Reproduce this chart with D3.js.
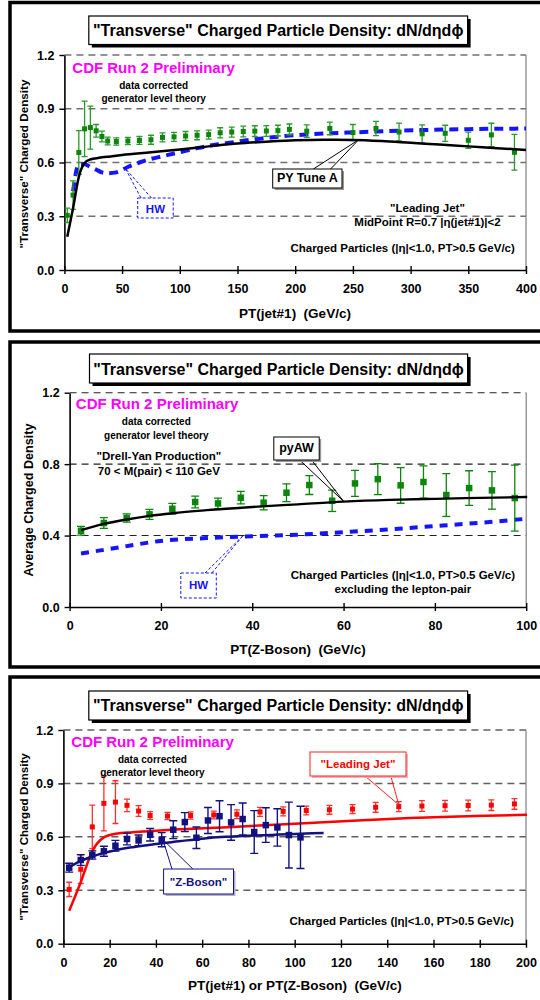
<!DOCTYPE html>
<html>
<head>
<meta charset="utf-8">
<script src="https://cdn.jsdelivr.net/npm/d3@7"></script>
<style>
  html, body { margin: 0; padding: 0; background: #fff; }
  svg { display: block; }
  text { font-family: "Liberation Sans", Arial, sans-serif; font-weight: bold; }
</style>
</head>
<body>
<svg id="chart" width="540" height="1000"></svg>
<script>
// ---------------- DATA ----------------
// "Leading Jet" data (CDF Run 2, corrected), PT(jet#1) bins in GeV/c
const ljX   = [2.5,7.5,12.5,17.5,22.5,27.5,32.5,37.5,45,55,65,75,85,95,105,115,125,135,145,155,165,175,185,195,210,230,250,270,290,310,330,350,370,390];
const ljY   = [0.305,0.418,0.656,0.788,0.795,0.777,0.745,0.720,0.717,0.720,0.723,0.727,0.740,0.743,0.748,0.752,0.756,0.766,0.770,0.773,0.775,0.776,0.778,0.785,0.775,0.790,0.767,0.790,0.770,0.760,0.763,0.724,0.754,0.657];
const ljErr = [0.040,0.080,0.122,0.155,0.120,0.035,0.030,0.022,0.020,0.020,0.022,0.025,0.025,0.025,0.025,0.025,0.025,0.028,0.028,0.030,0.030,0.030,0.030,0.030,0.035,0.035,0.045,0.040,0.050,0.050,0.045,0.045,0.065,0.100];

// "Z-Boson" (Drell-Yan) data, PT(Z) bins in GeV/c
const zX   = [2.5,7.5,12.5,17.5,22.5,27.5,32.5,37.5,42.5,47.5,52.5,57.5,62.5,67.5,72.5,77.5,82.5,87.5,92.5,97.5,102.5];
const zY   = [0.427,0.470,0.498,0.519,0.550,0.588,0.580,0.612,0.584,0.640,0.683,0.595,0.692,0.716,0.681,0.700,0.627,0.666,0.653,0.610,0.597];
const zErr = [0.025,0.030,0.023,0.028,0.030,0.033,0.030,0.035,0.040,0.050,0.053,0.060,0.073,0.087,0.100,0.090,0.120,0.097,0.105,0.185,0.175];

// PYTHIA Tune A (leading jet) theory curve
const pyX = [2.5,7.5,12.5,17.5,22.5,30,40,50,75,100,125,150,175,200,225,250,275,300,325,350,375,400];
const pyY = [0.185,0.345,0.520,0.597,0.617,0.626,0.634,0.642,0.657,0.673,0.690,0.706,0.716,0.724,0.727,0.726,0.720,0.710,0.700,0.690,0.680,0.670];

// HERWIG (leading jet) theory curve
const hwX = [7.5,12.5,17.5,22.5,27.5,32.5,37.5,45,55,65,75,85,95,105,115,125,135,145,155,165,175,185,195,210,230,250,270,290,310,330,350,370,390,400];
const hwY = [0.440,0.590,0.590,0.575,0.560,0.545,0.540,0.545,0.575,0.600,0.620,0.635,0.650,0.665,0.680,0.693,0.703,0.712,0.722,0.730,0.737,0.744,0.750,0.756,0.763,0.768,0.773,0.778,0.781,0.784,0.786,0.788,0.789,0.790];

// PYTHIA AW (Z-boson) theory curve
const awX = [2.5,7.5,12.5,17.5,22.5,30,40,50,60,70,80,90,100,112.5];
const awY = [0.430,0.465,0.490,0.510,0.525,0.542,0.560,0.575,0.590,0.600,0.606,0.611,0.616,0.622];

// HERWIG (Z-boson) theory curve
const hwzX = [2.5,10,20,30,40,50,60,70,80,90,100];
const hwzY = [0.300,0.330,0.370,0.386,0.396,0.405,0.419,0.435,0.453,0.472,0.494];

// Tick labels
const xTicks1 = [0,50,100,150,200,250,300,350,400];
const xTicks2 = [0,20,40,60,80,100];
const xTicks3 = [0,20,40,60,80,100,120,140,160,180,200];
const yTicks1 = [0.0,0.3,0.6,0.9,1.2];
const yTicks2 = [0.0,0.4,0.8,1.2];
const yTicks3 = [0.0,0.3,0.6,0.9,1.2];

const titleText = "\"Transverse\" Charged Particle Density: dN/dηdϕ";

// ---------------- HELPERS ----------------
const svg = d3.select("#chart");
const toPts = (xs, ys) => xs.map((x, i) => ({x, y: ys[i]}));
const toErr = (xs, ys, es) => xs.map((x, i) => ({x, y: ys[i], e: es[i]}));

function txt(g, x, y, s, o = {}) {
  return g.append("text").attr("x", x).attr("y", y).text(s)
    .attr("font-size", o.size || 11)
    .attr("text-anchor", o.anchor || "start")
    .attr("fill", o.fill || "#000")
    .style("white-space", "pre");
}

function panel(cfg) {
  const g = svg.append("g");
  g.append("rect").attr("x", 10).attr("y", cfg.fy0).attr("width", 560).attr("height", cfg.fy1 - cfg.fy0)
    .attr("fill", "#fff").attr("stroke", "#000").attr("stroke-width", 3.5);

  const x = d3.scaleLinear().domain(cfg.xDom).range([cfg.px0, cfg.px1]);
  const y = d3.scaleLinear().domain([0, 1.2]).range([cfg.pyB, cfg.pyT]);

  g.append("g").selectAll("line").data(cfg.yTicks.filter(d => d > 0)).join("line")
    .attr("x1", cfg.px0).attr("x2", cfg.px1)
    .attr("y1", d => y(d)).attr("y2", d => y(d))
    .attr("stroke", cfg.gridColor).attr("stroke-width", cfg.gridW).attr("stroke-dasharray", "7,5");
  g.append("line").attr("x1", cfg.px1).attr("x2", cfg.px1).attr("y1", cfg.pyT).attr("y2", cfg.pyB)
    .attr("stroke", "#808080").attr("stroke-width", 1.2);

  const ax = g.append("g").attr("transform", `translate(0,${cfg.pyB})`)
    .call(d3.axisBottom(x).tickValues(cfg.xTicks).tickSize(4).tickSizeOuter(0).tickFormat(d3.format("d")));
  ax.select(".domain").attr("stroke", "#000").attr("stroke-width", 1.6);
  ax.selectAll(".tick line").attr("y1", -4).attr("y2", 4).attr("stroke", "#000").attr("stroke-width", 1.4);
  ax.selectAll(".tick text").attr("y", cfg.xLabBase - cfg.pyB).attr("dy", null)
    .attr("font-size", 12.5).attr("font-family", "Liberation Sans, Arial, sans-serif").attr("font-weight", "bold").attr("fill", "#000");

  const ay = g.append("g").attr("transform", `translate(${cfg.px0},0)`)
    .call(d3.axisLeft(y).tickValues(cfg.yTicks).tickSize(5).tickSizeOuter(0).tickPadding(cfg.yPad).tickFormat(d3.format(".1f")));
  ay.select(".domain").attr("stroke", "#000").attr("stroke-width", 1.6);
  ay.selectAll(".tick line").attr("stroke", "#000").attr("stroke-width", 1.4);
  ay.selectAll(".tick text").attr("font-size", 12.5).attr("font-family", "Liberation Sans, Arial, sans-serif").attr("font-weight", "bold").attr("fill", "#000");

  const cid = "clip" + cfg.id;
  svg.append("defs").append("clipPath").attr("id", cid).append("rect")
    .attr("x", cfg.px0).attr("y", cfg.pyT - 20).attr("width", cfg.px1 - cfg.px0 + 1).attr("height", cfg.pyB - cfg.pyT + 20);
  const plot = g.append("g").attr("clip-path", `url(#${cid})`);

  const tb = cfg.title;
  g.append("rect").attr("x", tb.x0 + 3).attr("y", tb.y0 + 3).attr("width", tb.x1 - tb.x0).attr("height", tb.y1 - tb.y0).attr("fill", "#000");
  g.append("rect").attr("x", tb.x0).attr("y", tb.y0).attr("width", tb.x1 - tb.x0).attr("height", tb.y1 - tb.y0)
    .attr("fill", "#fff").attr("stroke", "#000").attr("stroke-width", 1.2);
  txt(g, (tb.x0 + tb.x1) / 2, tb.base, titleText, {size: 16, anchor: "middle"});

  txt(g, cfg.xTitle.x, cfg.xTitle.y, cfg.xTitle.s, {size: 13.5, anchor: "middle"});
  g.append("text").attr("transform", `translate(${cfg.yTitle.x},${cfg.yTitle.y}) rotate(-90)`)
    .attr("text-anchor", "middle").attr("dy", "0.35em").attr("font-size", cfg.yTitle.size).text(cfg.yTitle.s);

  txt(g, cfg.cdf.x, cfg.cdf.y, "CDF Run 2 Preliminary", {size: 15, fill: "#ff00ff"});

  return {g, plot, x, y};
}

function drawLine(p, xs, ys, st) {
  const line = d3.line().x(d => p.x(d.x)).y(d => p.y(d.y)).curve(d3.curveMonotoneX);
  p.plot.append("path").datum(toPts(xs, ys)).attr("d", line)
    .attr("fill", "none").attr("stroke", st.color).attr("stroke-width", st.w)
    .attr("stroke-dasharray", st.dash || null).attr("stroke-linecap", "butt");
}

function drawData(p, xs, ys, es, st) {
  const d = toErr(xs, ys, es).filter(v => v.x <= p.x.domain()[1]);
  const eg = p.plot.append("g").attr("stroke", st.bar).attr("stroke-width", st.bw);
  eg.selectAll("line.v").data(d).join("line").attr("class", "v")
    .attr("x1", v => p.x(v.x)).attr("x2", v => p.x(v.x)).attr("y1", v => p.y(v.y - v.e)).attr("y2", v => p.y(v.y + v.e));
  eg.selectAll("line.t").data(d).join("line").attr("class", "t")
    .attr("x1", v => p.x(v.x) - st.cap).attr("x2", v => p.x(v.x) + st.cap).attr("y1", v => p.y(v.y + v.e)).attr("y2", v => p.y(v.y + v.e));
  eg.selectAll("line.b").data(d).join("line").attr("class", "b")
    .attr("x1", v => p.x(v.x) - st.cap).attr("x2", v => p.x(v.x) + st.cap).attr("y1", v => p.y(v.y - v.e)).attr("y2", v => p.y(v.y - v.e));
  p.plot.append("g").selectAll("rect").data(d).join("rect")
    .attr("x", v => p.x(v.x) - st.sz / 2).attr("y", v => p.y(v.y) - st.sz / 2)
    .attr("width", st.sz).attr("height", st.sz).attr("fill", st.fill);
}

function callout(g, box, label, tip, st) {
  g.append("line").attr("x1", box.a[0]).attr("y1", box.a[1]).attr("x2", tip[0]).attr("y2", tip[1])
    .attr("stroke", st.stroke).attr("stroke-width", 1).attr("stroke-dasharray", st.dash || null);
  g.append("line").attr("x1", box.b[0]).attr("y1", box.b[1]).attr("x2", tip[0]).attr("y2", tip[1])
    .attr("stroke", st.stroke).attr("stroke-width", 1).attr("stroke-dasharray", st.dash || null);
  if (st.shadow) {
    g.append("rect").attr("x", box.x0 + 2).attr("y", box.y0 + 2).attr("width", box.x1 - box.x0).attr("height", box.y1 - box.y0)
      .attr("fill", st.shadow);
  }
  g.append("rect").attr("x", box.x0).attr("y", box.y0).attr("width", box.x1 - box.x0).attr("height", box.y1 - box.y0)
    .attr("fill", "#fff").attr("stroke", st.stroke).attr("stroke-width", st.bw || 1).attr("stroke-dasharray", st.dash || null);
  txt(g, (box.x0 + box.x1) / 2, box.base, label, {size: st.size || 12, anchor: "middle", fill: st.text || st.stroke});
}

// ---------------- PANEL 1 ----------------
const p1 = panel({
  id: 1, fy0: 2.5, fy1: 331, px0: 64.4, px1: 526, pyT: 55, pyB: 270,
  xDom: [0, 400], xTicks: xTicks1, yTicks: yTicks1, xLabBase: 293, yPad: 5,
  gridColor: "#707070", gridW: 1.5,
  title: {x0: 88.8, x1: 467.6, y0: 16, y1: 44.5, base: 36},
  xTitle: {x: 295, y: 318, s: "PT(jet#1)  (GeV/c)"},
  yTitle: {x: 24, y: 164, s: "\"Transverse\" Charged Density", size: 11.7},
  cdf: {x: 72.3, y: 73.3}
});
txt(p1.g, 153.7, 89, "data corrected", {size: 10, anchor: "middle"});
txt(p1.g, 153.7, 101.5, "generator level theory", {size: 10, anchor: "middle"});
txt(p1.g, 427.5, 211.7, "\"Leading Jet\"", {size: 11.5, anchor: "middle"});
txt(p1.g, 427.5, 226, "MidPoint R=0.7 |η(jet#1)|<2", {size: 11.5, anchor: "middle"});
txt(p1.g, 514.8, 252, "Charged Particles (|η|<1.0, PT>0.5 GeV/c)", {size: 11.5, anchor: "end"});
drawLine(p1, hwX, hwY, {color: "#1414ff", w: 4, dash: "9,6"});
drawData(p1, ljX, ljY, ljErr, {fill: "#0b860b", bar: "#2a9a2a", bw: 1.3, cap: 3, sz: 5});
drawLine(p1, pyX, pyY, {color: "#000", w: 2.5});
callout(p1.g, {x0: 272.7, x1: 342, y0: 169, y1: 188, base: 182, a: [313.4, 169], b: [330.6, 169]},
  "PY Tune A", [p1.x(255), p1.y(0.727)], {stroke: "#000", text: "#000", size: 12.5, shadow: "#999"});
callout(p1.g, {x0: 137.7, x1: 173.2, y0: 198, y1: 218, base: 212.5, a: [141, 198], b: [151.5, 198]},
  "HW", [p1.x(53), p1.y(0.565)], {stroke: "#1414ff", text: "#1414ff", size: 11.5, dash: "3,2"});

// ---------------- PANEL 2 ----------------
const p2 = panel({
  id: 2, fy0: 342, fy1: 667, px0: 69.6, px1: 526.2, pyT: 392.7, pyB: 607,
  xDom: [0, 100], xTicks: xTicks2, yTicks: yTicks2, xLabBase: 630, yPad: 5,
  gridColor: "#222", gridW: 1.1,
  title: {x0: 89.5, x1: 467.6, y0: 354, y1: 383, base: 375},
  xTitle: {x: 298, y: 654, s: "PT(Z-Boson)  (GeV/c)"},
  yTitle: {x: 29, y: 500, s: "Average Charged Density", size: 12.6},
  cdf: {x: 75.8, y: 409}
});
txt(p2.g, 156.3, 425, "data corrected", {size: 10, anchor: "middle"});
txt(p2.g, 156.3, 439, "generator level theory", {size: 10, anchor: "middle"});
txt(p2.g, 158.9, 460, "\"Drell-Yan Production\"", {size: 11.5, anchor: "middle"});
txt(p2.g, 158.9, 474.5, "70 < M(pair) < 110 GeV", {size: 11.5, anchor: "middle"});
txt(p2.g, 402.9, 578.5, "Charged Particles (|η|<1.0, PT>0.5 GeV/c)", {size: 11.5, anchor: "middle"});
txt(p2.g, 402.9, 593, "excluding the lepton-pair", {size: 11.5, anchor: "middle"});
drawLine(p2, hwzX, hwzY, {color: "#1414ff", w: 4, dash: "8,7"});
drawData(p2, zX, zY, zErr, {fill: "#0b860b", bar: "#0b860b", bw: 1.3, cap: 4, sz: 6.5});
drawLine(p2, awX, awY, {color: "#000", w: 2.3});
callout(p2.g, {x0: 273.8, x1: 319.2, y0: 437, y1: 460, base: 452, a: [299.6, 460], b: [311.6, 460]},
  "pyAW", [p2.x(60), p2.y(0.592)], {stroke: "#000", text: "#000", size: 12.5, shadow: "#999"});
callout(p2.g, {x0: 180.8, x1: 216.3, y0: 573, y1: 598, base: 589, a: [205, 573], b: [211.8, 573]},
  "HW", [p2.x(38), p2.y(0.40)], {stroke: "#1414ff", text: "#1414ff", size: 11.5, dash: "3,2"});

// ---------------- PANEL 3 ----------------
const p3 = panel({
  id: 3, fy0: 677, fy1: 1012, px0: 63.4, px1: 526, pyT: 730, pyB: 943.7,
  xDom: [0, 200], xTicks: xTicks3, yTicks: yTicks3, xLabBase: 967, yPad: 5,
  gridColor: "#606060", gridW: 1.5,
  title: {x0: 88.8, x1: 467.6, y0: 691, y1: 720, base: 711},
  xTitle: {x: 295, y: 990, s: "PT(jet#1) or PT(Z-Boson)  (GeV/c)"},
  yTitle: {x: 24, y: 837, s: "\"Transverse\" Charged Density", size: 11.6},
  cdf: {x: 71.3, y: 747}
});
txt(p3.g, 152.4, 763, "data corrected", {size: 10, anchor: "middle"});
txt(p3.g, 152.4, 776, "generator level theory", {size: 10, anchor: "middle"});
txt(p3.g, 513.8, 925, "Charged Particles (|η|<1.0, PT>0.5 GeV/c)", {size: 11.5, anchor: "end"});
drawData(p3, ljX, ljY, ljErr, {fill: "#ff0000", bar: "#ff3030", bw: 1.3, cap: 3, sz: 5});
drawLine(p3, pyX, pyY, {color: "#ff0000", w: 2.5});
drawData(p3, zX, zY, zErr, {fill: "#12127e", bar: "#12127e", bw: 1.4, cap: 4, sz: 6.5});
drawLine(p3, awX, awY, {color: "#12127e", w: 2.5});
callout(p3.g, {x0: 310, x1: 406, y0: 752, y1: 776, base: 767.5, a: [365, 776], b: [390.8, 776]},
  "\"Leading Jet\"", [p3.x(145), p3.y(0.78)], {stroke: "#ff2020", text: "#ff0000", size: 11.5, shadow: "#f3b0b0"});
callout(p3.g, {x0: 163.6, x1: 233.5, y0: 869, y1: 894, base: 885.7, a: [172, 869], b: [192.8, 869]},
  "\"Z-Boson\"", [p3.x(43), p3.y(0.585)], {stroke: "#12127e", text: "#12127e", size: 11.5, shadow: "#b0b0d0"});
</script>
</body>
</html>
